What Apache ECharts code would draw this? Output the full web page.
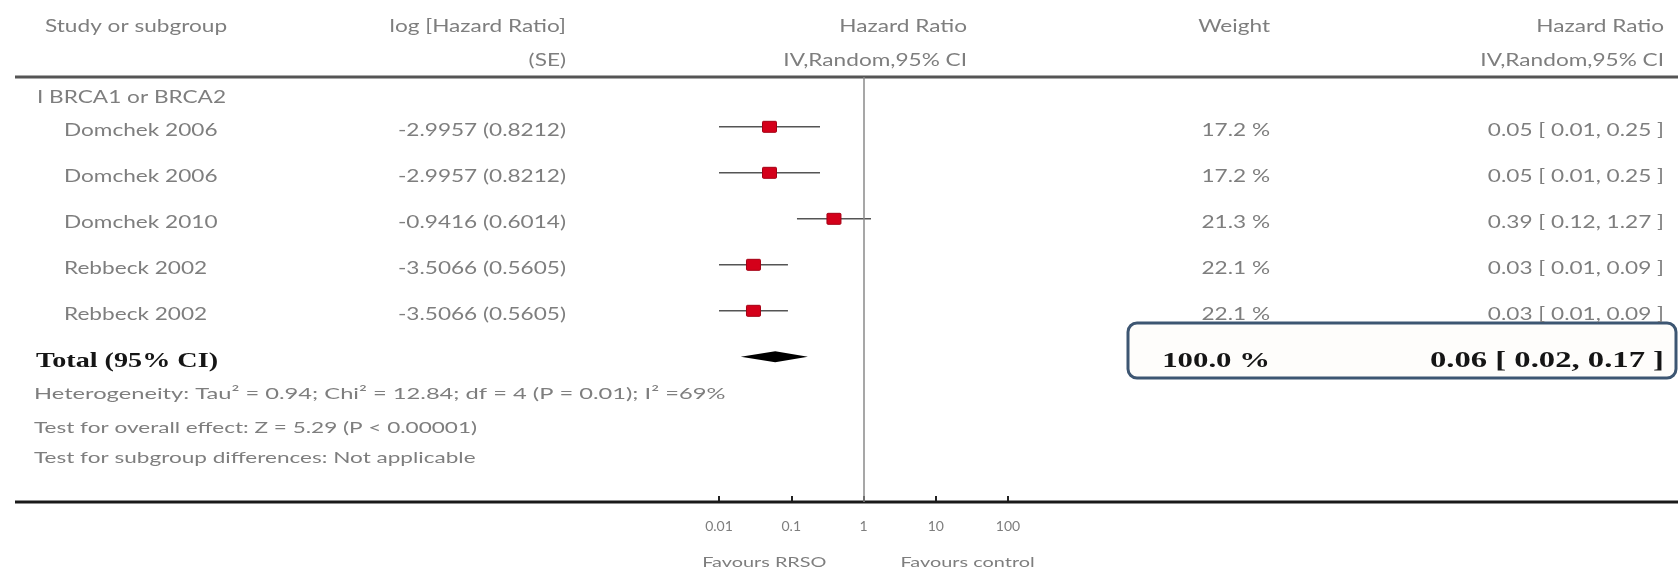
<!DOCTYPE html>
<html><head><meta charset="utf-8">
<script src="https://cdn.jsdelivr.net/npm/echarts@6/dist/echarts.min.js"></script>
<style>html,body{margin:0;padding:0;background:#fff}#c{width:1678px;height:570px}</style>
</head><body><div id="c"></div>
<script>
// ---------- DATA ----------
const subgroupLabel = 'I BRCA1 or BRCA2';
const studyNames = ['Domchek 2006', 'Domchek 2006', 'Domchek 2010', 'Rebbeck 2002', 'Rebbeck 2002'];
const logHRValues = [-2.9957, -2.9957, -0.9416, -3.5066, -3.5066];
const seValues = [0.8212, 0.8212, 0.6014, 0.5605, 0.5605];
const hrValues = [0.05, 0.05, 0.39, 0.03, 0.03];
const ciLow = [0.01, 0.01, 0.12, 0.01, 0.01];
const ciHigh = [0.25, 0.25, 1.27, 0.09, 0.09];
const weights = [17.2, 17.2, 21.3, 22.1, 22.1];
const totalLabel = 'Total (95% CI)';
const totalHR = 0.06, totalLow = 0.02, totalHigh = 0.17, totalWeight = 100.0;
const headerTop = ['Study or subgroup', 'log [Hazard Ratio]', 'Hazard Ratio', 'Weight', 'Hazard Ratio'];
const headerBottom = ['', '(SE)', 'IV,Random,95% CI', '', 'IV,Random,95% CI'];
const footnotes = [
  'Heterogeneity: Tau\u00b2 = 0.94; Chi\u00b2 = 12.84; df = 4 (P = 0.01); I\u00b2 =69%',
  'Test for overall effect: Z = 5.29 (P < 0.00001)',
  'Test for subgroup differences: Not applicable'
];
const tickValues = [0.01, 0.1, 1, 10, 100];
const tickLabels = ['0.01', '0.1', '1', '10', '100'];
const favourLeft = 'Favours RRSO', favourRight = 'Favours control';

// ---------- LAYOUT ----------
const W = 1678, H = 570;
const LINE_TOP = 77, LINE_BOTTOM = 502, ROW = 46, OFF = 0.17, OFF_F = OFF - 4 / 46;
const rowOf = px => (px - LINE_TOP) / ROW - OFF;
const FONT = 'Lato, "Open Sans", sans-serif';
const SERIF = '"Liberation Serif", "DejaVu Serif", serif';
const SX = 1.33;
const GREY = '#7e7e7e';
const col = { header: 45, sub: 37, study: 64, total: 36, foot: 34, log: 566, forest: 967, weight: 1270, hr: 1664 };
const forestLeft = 719, forestRight = 1008;

const fmtHR = (h, l, u) => h.toFixed(2) + ' [ ' + l.toFixed(2) + ', ' + u.toFixed(2) + ' ]';

const items = [];
function T(x, r, text, align, opt) { items.push(Object.assign({ x, r, text, align }, opt || {})); }
const hx = [col.header, col.log, col.forest, col.weight, col.hr];
const ha = ['left', 'right', 'right', 'right', 'right'];
headerTop.forEach((t, i) => T(hx[i], rowOf(27), t, ha[i]));
headerBottom.forEach((t, i) => { if (t) T(hx[i], rowOf(61), t, ha[i]); });
T(col.sub, rowOf(98), subgroupLabel, 'left');
studyNames.forEach((n, i) => {
  const r = i + 1;
  T(col.study, r, n, 'left');
  T(col.log, r, logHRValues[i].toFixed(4) + ' (' + seValues[i].toFixed(4) + ')', 'right');
  T(col.weight, r, weights[i].toFixed(1) + ' %', 'right');
  T(col.hr, r, fmtHR(hrValues[i], ciLow[i], ciHigh[i]), 'right');
});
const totalRow = studyNames.length + 1;
T(col.total, totalRow, totalLabel, 'left', { bold: true, size: 22, sx: 1.28 });
T(col.weight, totalRow, totalWeight.toFixed(1) + ' %', 'right', { bold: true, size: 22, sx: 1.4 });
T(col.hr, totalRow, fmtHR(totalHR, totalLow, totalHigh), 'right', { bold: true, size: 23, sx: 1.42 });
footnotes.forEach((f, i) => T(col.foot, rowOf([394, 428, 458][i]), f, 'left', { size: 16, sx: [1.48, 1.41, 1.41][i] }));
const favY = rowOf(562) + OFF - OFF_F;

const chart = echarts.init(document.getElementById('c'), null, { renderer: 'canvas' });

const forestData = studyNames.map((n, i) => [hrValues[i], i + 1, ciLow[i], ciHigh[i], weights[i]]);

chart.setOption({
  animation: false,
  backgroundColor: '#fff',
  grid: [
    { left: forestLeft, right: W - forestRight, top: LINE_TOP, bottom: H - LINE_BOTTOM },
    { left: 0, right: 0, top: 0, bottom: 0 }
  ],
  xAxis: [
    {
      gridIndex: 0, type: 'log', logBase: 10, min: 0.01, max: 100, interval: 1, position: 'bottom',
      axisLine: { show: false, onZero: false },
      axisTick: { show: true, inside: true, length: 6, lineStyle: { color: '#222', width: 2 } },
      axisLabel: {
        color: '#7e7e7e', fontFamily: FONT, fontSize: 14, margin: 17,
        formatter: v => {
          const i = tickValues.findIndex(t => Math.abs(Math.log10(t) - Math.log10(v)) < 1e-6);
          return i >= 0 ? tickLabels[i] : '';
        }
      },
      splitLine: { show: false }
    },
    { gridIndex: 1, type: 'value', min: 0, max: W, show: false }
  ],
  yAxis: [
    { gridIndex: 0, type: 'value', inverse: true, min: -OFF_F, max: (LINE_BOTTOM - LINE_TOP) / ROW - OFF_F, show: false },
    { gridIndex: 1, type: 'value', inverse: true, min: rowOf(0), max: rowOf(H), show: false }
  ],
  graphic: [
    { type: 'line', shape: { x1: 15, y1: LINE_TOP, x2: W, y2: LINE_TOP }, style: { stroke: '#555', lineWidth: 3 }, z: 1 },
    { type: 'line', shape: { x1: 15, y1: LINE_BOTTOM, x2: W, y2: LINE_BOTTOM }, style: { stroke: '#1a1a1a', lineWidth: 3 }, z: 1 },
    { type: 'rect', shape: { x: 1128, y: 323, width: 548, height: 55, r: 9 }, style: { fill: '#fefdfb', stroke: '#3d5672', lineWidth: 3 }, z: 0 }
  ],
  series: [
    {
      type: 'custom', xAxisIndex: 0, yAxisIndex: 0, z: 3, clip: false,
      data: forestData,
      renderItem: (params, api) => {
        const est = api.value(0), r = api.value(1), lo = api.value(2), hi = api.value(3);
        const pe = api.coord([est, r]), pl = api.coord([lo, r]), ph = api.coord([hi, r]);
        return {
          type: 'group', children: [
            { type: 'line', shape: { x1: pl[0], y1: pl[1], x2: ph[0], y2: ph[1] }, style: { stroke: '#555', lineWidth: 1.5 } },
            { type: 'rect', shape: { x: pe[0] - 7, y: pe[1] - 5.5, width: 14, height: 11, r: 1 }, style: { fill: '#d4001a', stroke: '#a30014', lineWidth: 1 } }
          ]
        };
      },
      markLine: {
        silent: true, symbol: 'none', label: { show: false },
        lineStyle: { color: '#8a8a8a', width: 1.5, type: 'solid' },
        data: [{ xAxis: 1 }]
      }
    },
    {
      type: 'custom', xAxisIndex: 0, yAxisIndex: 0, z: 3, clip: false,
      data: [[totalHR, totalRow, totalLow, totalHigh]],
      renderItem: (params, api) => {
        const r = api.value(1);
        const pe = api.coord([api.value(0), r]), pl = api.coord([api.value(2), r]), ph = api.coord([api.value(3), r]);
        const y = pe[1];
        return {
          type: 'polygon',
          shape: { points: [[pl[0], y], [pe[0], y - 5.5], [ph[0], y], [pe[0], y + 5.5]] },
          style: { fill: '#000' }
        };
      }
    },
    {
      type: 'custom', xAxisIndex: 1, yAxisIndex: 1, z: 4, clip: false,
      data: items.map(it => [it.x, it.r]),
      renderItem: (params, api) => {
        const it = items[params.dataIndex];
        const p = api.coord([api.value(0), api.value(1)]);
        return {
          type: 'text', x: p[0], y: p[1], scaleX: it.sx || SX,
          style: {
            text: it.text, align: it.align, verticalAlign: 'middle',
            font: (it.bold ? 'bold ' : '') + (it.size || 17) + 'px ' + (it.bold ? SERIF : FONT),
            fill: it.bold ? '#151515' : GREY
          }
        };
      }
    },
    {
      type: 'custom', xAxisIndex: 0, yAxisIndex: 0, z: 4, clip: false,
      data: [[1, favY, 0], [1, favY, 1]],
      renderItem: (params, api) => {
        const p = api.coord([api.value(0), api.value(1)]);
        const right = params.dataIndex === 1;
        return {
          type: 'text', x: p[0] + (right ? 37 : -37), y: p[1], scaleX: 1.42,
          style: { text: right ? favourRight : favourLeft, align: right ? 'left' : 'right', verticalAlign: 'middle', font: '14px ' + FONT, fill: '#7e7e7e' }
        };
      }
    }
  ]
});
</script></body></html>
